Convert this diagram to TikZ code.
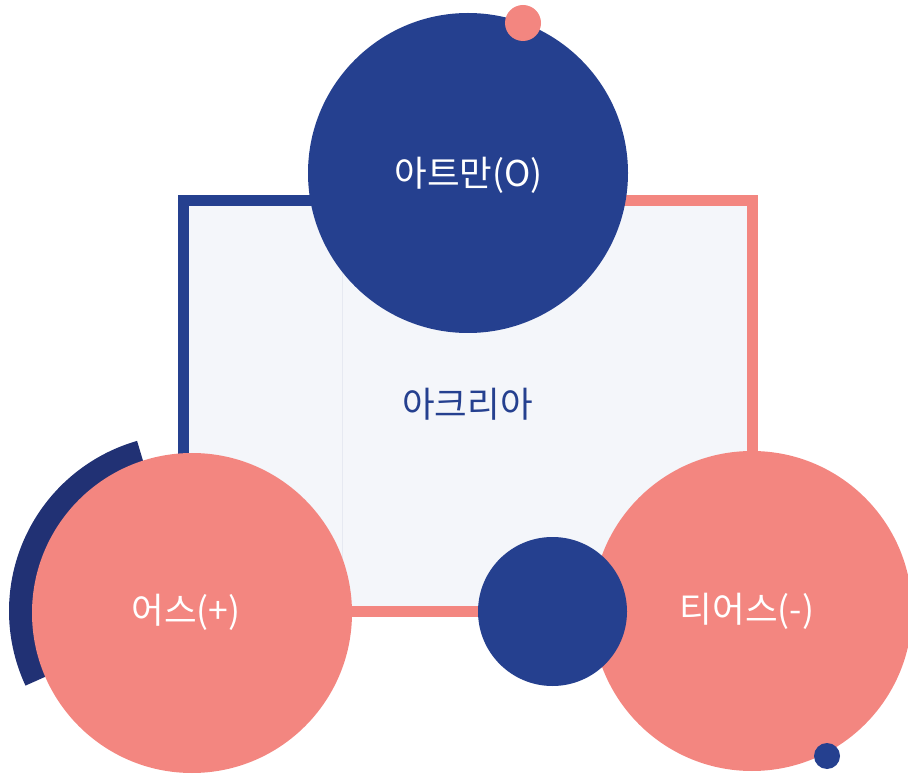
\documentclass[tikz,border=0pt]{standalone}
\usepackage{fontspec}
\setmainfont{Noto Sans CJK KR}
\definecolor{cblue}{HTML}{25408F}
\definecolor{cpink}{HTML}{F38680}
\definecolor{cnavy}{HTML}{213174}
\definecolor{cfill}{HTML}{F4F6FA}
\definecolor{cline}{HTML}{E6E9F1}
\begin{document}
\begin{tikzpicture}[x=1pt,y=-1pt,
  disc/.style={circle,inner sep=0pt,minimum size=#1},
  lbl/.style={inner sep=0pt,font=\fontsize{35.5}{40}\selectfont},
  frame/.style={line width=11pt,line join=miter}]
\useasboundingbox (0,0) rectangle (908,775);
% frame
\coordinate (tl) at (183.5,201);
\coordinate (tm) at (468,201);
\coordinate (tr) at (752,201);
\coordinate (br) at (752,611);
\coordinate (bl) at (183.5,611);
\fill[cfill] (tl) rectangle (br);
\coordinate (ft) at (342,207);
\coordinate (fb) at (342,606);
\draw[cline,line width=1pt] (ft) -- (fb);
\draw[cblue,frame] (bl) -- (tl) -- (tm);
\draw[cpink,frame] (tm) -- (tr) -- (br) -- (bl);
% top circle
\node[disc=320pt,fill=cblue] (atman) at (468,173) {};
\node[disc=36pt,fill=cpink] (pdot) at (523,23) {};
% navy arc
\coordinate (arcc) at (186,611);
\draw[cnavy,line width=26pt] (arcc) ++(155:164) arc[start angle=155,end angle=254,radius=164];
% bottom circles
\node[disc=320pt,fill=cpink] (earth) at (192,613) {};
\node[disc=320pt,fill=cpink] (tears) at (752,611) {};
\node[disc=149pt,fill=cblue] (mid) at (552.5,611.5) {};
\node[disc=26pt,fill=cblue] (bdot) at (827,756) {};
% labels
\node[lbl,text=white] (tatman) at (468.5,175) {아트만(O)};
\node[lbl,text=cblue] (takria) at (467.5,404) {아크리아};
\node[lbl,text=white] (tearth) at (186,612) {어스(+)};
\node[lbl,text=white] (ttears) at (747,611) {티어스(-)};
\end{tikzpicture}
\end{document}
